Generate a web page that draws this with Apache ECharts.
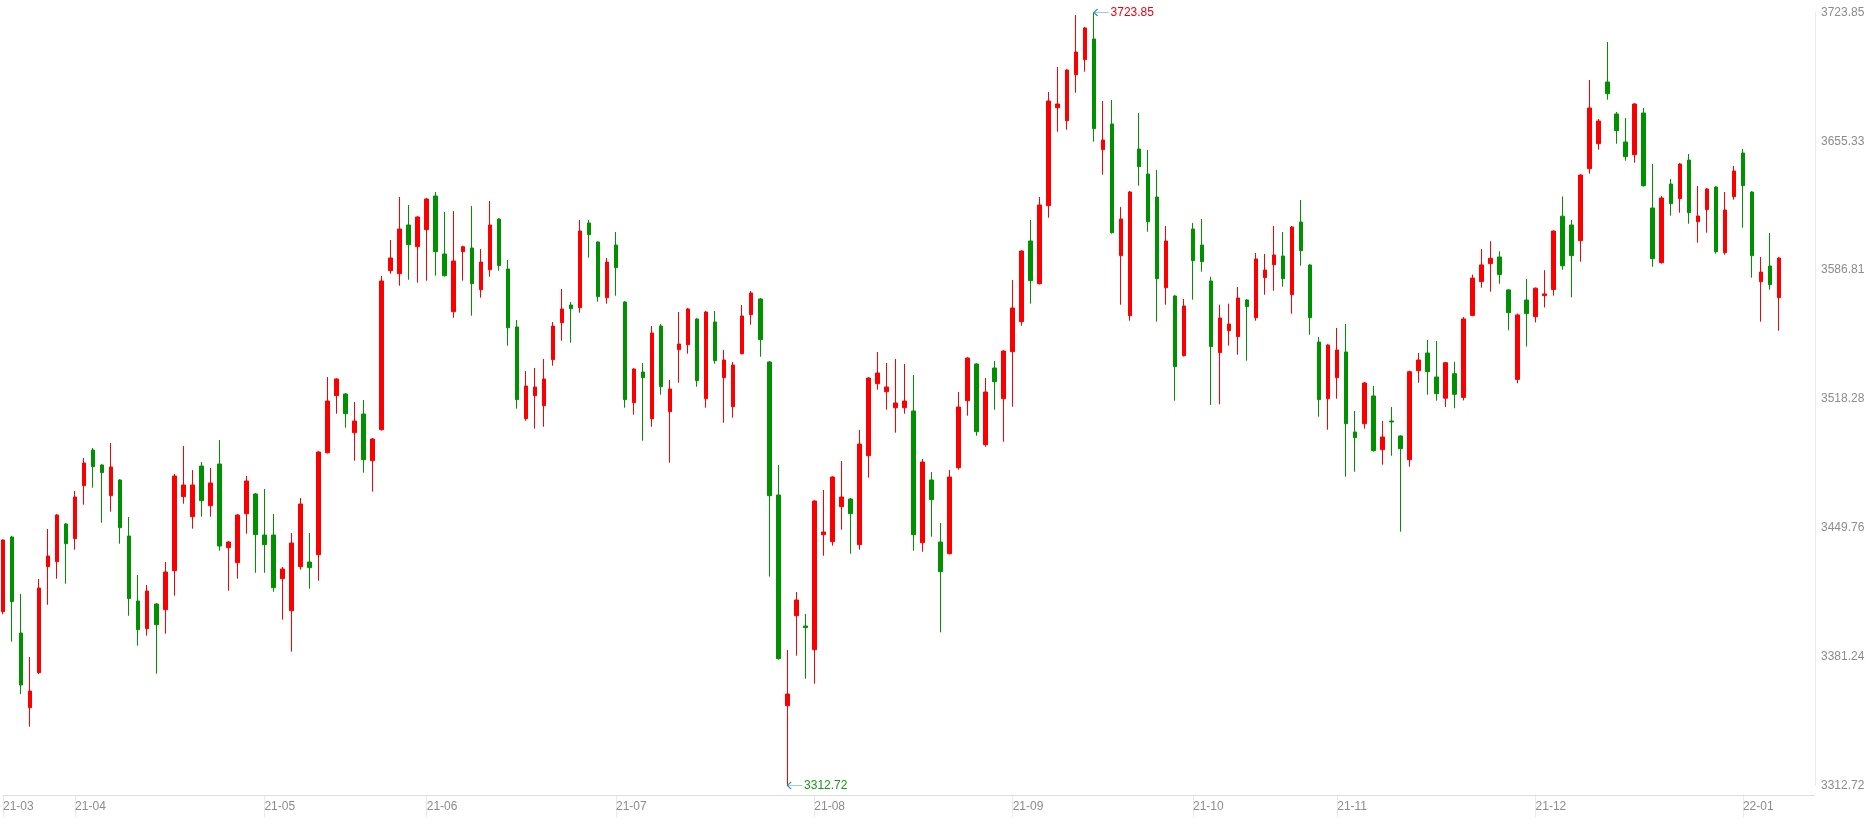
<!DOCTYPE html>
<html>
<head>
<meta charset="utf-8">
<title>上证指数 日K</title>
<script type="text/javascript" src="https://cdn.jsdelivr.net/npm/echarts@6/dist/echarts.min.js"></script>
<style>
html, body { margin: 0; padding: 0; background: #fff; }
#kline { width: 1871px; height: 819px; }
</style>
</head>
<body>
<div id="kline"></div>
<script type="text/javascript">
    // 交易日 (2021-03-22 ~ 2022-01-10)
    var months = ['2021-03', '2021-04', '2021-05', '2021-06', '2021-07', '2021-08',
                  '2021-09', '2021-10', '2021-11', '2021-12', '2022-01'];
    var tradeDays = [
        [22, 23, 24, 25, 26, 29, 30, 31],
        [1, 2, 6, 7, 8, 9, 12, 13, 14, 15, 16, 19, 20, 21, 22, 23, 26, 27, 28, 29, 30],
        [6, 7, 10, 11, 12, 13, 14, 17, 18, 19, 20, 21, 24, 25, 26, 27, 28, 31],
        [1, 2, 3, 4, 7, 8, 9, 10, 11, 15, 16, 17, 18, 21, 22, 23, 24, 25, 28, 29, 30],
        [1, 2, 5, 6, 7, 8, 9, 12, 13, 14, 15, 16, 19, 20, 21, 22, 23, 26, 27, 28, 29, 30],
        [2, 3, 4, 5, 6, 9, 10, 11, 12, 13, 16, 17, 18, 19, 20, 23, 24, 25, 26, 27, 30, 31],
        [1, 2, 3, 6, 7, 8, 9, 10, 13, 14, 15, 16, 17, 22, 23, 24, 27, 28, 29, 30],
        [8, 11, 12, 13, 14, 15, 18, 19, 20, 21, 22, 25, 26, 27, 28, 29],
        [1, 2, 3, 4, 5, 8, 9, 10, 11, 12, 15, 16, 17, 18, 19, 22, 23, 24, 25, 26, 29, 30],
        [1, 2, 3, 6, 7, 8, 9, 10, 13, 14, 15, 16, 17, 20, 21, 22, 23, 24, 27, 28, 29, 30, 31],
        [4, 5, 6, 7, 10]
    ];

    var opens = [
        3405.16, 3444.89, 3393.83, 3354.10, 3372.72, 3429.10, 3431.75, 3451.81, 3443.99, 3472.18,
        3491.16, 3483.19, 3466.86, 3475.21, 3445.42, 3410.85, 3396.12, 3409.26, 3406.23, 3426.97,
        3466.33, 3455.69, 3482.65, 3461.54, 3483.72, 3439.20, 3431.22, 3457.28, 3467.76, 3445.95,
        3445.95, 3422.71, 3405.69, 3429.10, 3431.59, 3435.48, 3489.73, 3520.04, 3520.95, 3500.37,
        3510.31, 3485.47, 3501.96, 3586.53, 3584.93, 3610.83, 3599.29, 3608.33, 3626.26, 3595.41,
        3564.72, 3596.63, 3598.60, 3576.42, 3587.06, 3614.02, 3587.43, 3556.58, 3507.81, 3520.04,
        3514.72, 3539.19, 3558.87, 3568.28, 3566.85, 3611.90, 3601.79, 3572.17, 3600.19, 3569.88,
        3516.32, 3532.65, 3507.81, 3557.11, 3511.53, 3544.51, 3547.17, 3560.84, 3518.45, 3559.24,
        3529.62, 3514.19, 3542.38, 3563.12, 3571.47, 3537.97, 3467.23, 3355.17, 3403.03, 3397.56,
        3384.95, 3446.11, 3442.39, 3461.01, 3465.10, 3440.80, 3488.13, 3526.43, 3522.17, 3513.66,
        3513.66, 3511.91, 3441.86, 3475.21, 3442.23, 3436.01, 3481.75, 3517.38, 3536.90, 3493.98,
        3534.78, 3518.45, 3543.45, 3559.40, 3602.32, 3579.61, 3621.10, 3673.22, 3666.30, 3690.77,
        3698.75, 3709.76, 3650.88, 3664.55, 3594.50, 3562.59, 3651.25, 3637.96, 3625.72, 3577.48,
        3573.07, 3541.32, 3608.70, 3600.19, 3581.05, 3542.91, 3554.61, 3551.42, 3570.94, 3561.53,
        3582.80, 3589.72, 3594.34, 3573.76, 3612.43, 3589.56, 3548.60, 3518.45, 3529.62, 3543.29,
        3500.74, 3505.15, 3519.88, 3491.32, 3506.59, 3498.61, 3486.00, 3533.34, 3542.75, 3529.99,
        3518.71, 3531.74, 3519.14, 3562.75, 3580.73, 3590.30, 3593.81, 3576.31, 3528.71, 3570.94,
        3562.06, 3573.28, 3576.53, 3615.51, 3610.83, 3602.48, 3640.78, 3654.07, 3686.89, 3669.87,
        3654.98, 3648.22, 3670.40, 3619.87, 3590.78, 3632.64, 3624.82, 3645.40, 3612.59, 3618.97,
        3631.04, 3596.10, 3625.88, 3649.13, 3628.38, 3580.67, 3589.03, 3572.17
    ];
    var closes = [
        3443.30, 3410.48, 3366.18, 3362.98, 3417.77, 3434.79, 3456.59, 3441.33, 3466.17, 3484.25,
        3482.28, 3479.09, 3482.12, 3449.84, 3412.08, 3395.59, 3416.17, 3398.25, 3426.28, 3477.33,
        3472.55, 3472.55, 3464.20, 3473.61, 3440.10, 3442.23, 3456.59, 3474.68, 3446.11, 3440.80,
        3417.92, 3427.87, 3441.70, 3462.44, 3428.56, 3490.10, 3517.22, 3528.93, 3510.47, 3506.59,
        3486.00, 3497.01, 3581.05, 3593.28, 3608.70, 3600.35, 3615.09, 3624.66, 3596.63, 3583.87,
        3591.68, 3599.29, 3579.61, 3591.15, 3610.83, 3589.18, 3556.21, 3517.92, 3525.20, 3524.67,
        3528.93, 3557.11, 3566.16, 3566.31, 3607.64, 3605.67, 3572.70, 3591.15, 3588.12, 3517.92,
        3534.24, 3529.62, 3553.39, 3524.83, 3523.61, 3547.54, 3566.16, 3528.02, 3564.56, 3538.66,
        3539.03, 3536.37, 3562.43, 3574.67, 3549.83, 3466.86, 3380.16, 3361.39, 3411.38, 3396.65,
        3464.04, 3447.55, 3476.80, 3466.17, 3457.28, 3494.35, 3529.46, 3532.12, 3524.67, 3516.16,
        3517.22, 3446.11, 3484.78, 3464.73, 3426.44, 3476.80, 3514.03, 3540.09, 3500.90, 3522.01,
        3527.49, 3543.82, 3566.69, 3597.00, 3581.21, 3621.47, 3676.78, 3675.19, 3693.27, 3702.84,
        3715.61, 3662.05, 3656.04, 3606.74, 3614.02, 3628.38, 3641.84, 3612.59, 3582.27, 3602.32,
        3535.47, 3567.75, 3591.84, 3591.31, 3546.10, 3561.37, 3558.18, 3572.01, 3567.38, 3592.75,
        3586.90, 3594.88, 3582.27, 3609.77, 3597.16, 3561.53, 3517.92, 3547.01, 3544.35, 3505.15,
        3497.70, 3526.80, 3490.79, 3498.08, 3506.06, 3491.85, 3532.81, 3539.03, 3532.81, 3521.11,
        3537.59, 3520.79, 3560.89, 3582.59, 3589.61, 3593.12, 3584.45, 3564.19, 3563.02, 3563.71,
        3577.22, 3574.19, 3607.59, 3589.13, 3594.50, 3637.42, 3673.06, 3666.14, 3680.66, 3660.99,
        3647.16, 3675.19, 3631.73, 3592.91, 3625.19, 3622.16, 3643.27, 3617.37, 3615.62, 3629.98,
        3596.63, 3618.81, 3639.55, 3631.73, 3594.50, 3585.83, 3579.08, 3593.28
    ];
    var lows = [
        3403.78, 3389.21, 3361.39, 3344.00, 3372.00, 3408.88, 3422.71, 3420.05, 3438.14, 3462.07,
        3471.11, 3452.50, 3458.35, 3441.33, 3403.03, 3387.08, 3392.40, 3372.19, 3393.46, 3413.67,
        3462.60, 3449.31, 3455.69, 3455.69, 3437.61, 3416.33, 3422.71, 3446.65, 3425.90, 3425.90,
        3415.80, 3400.91, 3383.89, 3427.50, 3417.40, 3421.65, 3489.30, 3510.47, 3503.02, 3485.47,
        3479.09, 3468.98, 3501.50, 3584.93, 3578.55, 3581.74, 3580.14, 3581.21, 3583.87, 3583.40,
        3561.53, 3581.21, 3562.59, 3572.17, 3583.33, 3586.53, 3546.64, 3513.13, 3506.75, 3502.49,
        3503.55, 3536.00, 3549.29, 3548.23, 3564.19, 3593.44, 3570.04, 3568.97, 3573.23, 3513.66,
        3509.94, 3496.11, 3503.55, 3520.57, 3484.41, 3526.96, 3542.38, 3524.83, 3513.66, 3537.06,
        3505.68, 3508.34, 3542.00, 3557.81, 3540.79, 3423.78, 3379.63, 3312.72, 3381.76, 3369.53,
        3366.87, 3434.94, 3440.26, 3448.77, 3436.01, 3438.14, 3476.43, 3523.23, 3512.60, 3500.37,
        3510.47, 3437.61, 3437.07, 3445.05, 3394.20, 3435.60, 3480.69, 3509.41, 3498.77, 3492.91,
        3512.60, 3495.58, 3514.19, 3557.27, 3568.97, 3579.20, 3614.71, 3660.45, 3661.52, 3681.20,
        3692.37, 3655.14, 3637.58, 3606.20, 3568.44, 3559.93, 3631.73, 3607.27, 3559.40, 3568.44,
        3517.38, 3540.90, 3571.10, 3585.99, 3515.10, 3515.47, 3546.64, 3541.85, 3538.66, 3559.93,
        3573.76, 3575.89, 3578.02, 3563.66, 3589.18, 3552.49, 3508.87, 3501.96, 3518.45, 3476.96,
        3479.62, 3502.49, 3490.30, 3483.35, 3488.13, 3447.71, 3482.28, 3526.96, 3520.57, 3517.38,
        3514.03, 3513.34, 3517.54, 3562.30, 3577.48, 3575.36, 3579.56, 3554.83, 3526.64, 3546.21,
        3559.03, 3566.95, 3573.28, 3587.06, 3572.38, 3591.31, 3638.12, 3650.88, 3677.47, 3654.07,
        3645.03, 3643.97, 3631.20, 3588.65, 3590.30, 3615.78, 3617.37, 3611.52, 3601.42, 3606.74,
        3595.57, 3595.04, 3624.29, 3609.40, 3582.80, 3559.40, 3576.42, 3554.61
    ];
    var highs = [
        3443.60, 3445.50, 3414.58, 3381.07, 3422.55, 3449.15, 3457.00, 3452.30, 3469.36, 3486.91,
        3492.23, 3483.60, 3494.89, 3475.60, 3455.53, 3424.68, 3419.36, 3409.70, 3431.59, 3478.40,
        3493.29, 3480.53, 3484.78, 3481.59, 3496.48, 3442.76, 3457.00, 3477.33, 3468.29, 3470.42,
        3457.12, 3428.94, 3447.02, 3465.63, 3447.02, 3490.50, 3529.99, 3529.30, 3521.40, 3516.69,
        3517.76, 3497.55, 3583.71, 3602.85, 3625.72, 3621.47, 3615.50, 3625.19, 3628.38, 3617.75,
        3618.28, 3599.82, 3620.94, 3598.07, 3623.60, 3614.40, 3592.22, 3560.30, 3533.18, 3534.78,
        3539.56, 3559.24, 3576.79, 3569.88, 3613.49, 3613.49, 3602.20, 3593.28, 3607.11, 3570.30,
        3534.60, 3537.43, 3557.11, 3558.18, 3528.39, 3564.56, 3566.69, 3561.20, 3565.09, 3565.09,
        3544.35, 3537.97, 3568.28, 3575.73, 3571.90, 3538.40, 3483.19, 3384.79, 3415.64, 3403.94,
        3464.40, 3469.89, 3477.20, 3485.31, 3465.63, 3501.80, 3529.90, 3543.29, 3537.43, 3539.56,
        3536.90, 3531.05, 3486.38, 3479.46, 3452.34, 3480.53, 3522.01, 3540.50, 3537.30, 3529.46,
        3538.50, 3544.20, 3581.58, 3597.40, 3613.49, 3625.72, 3681.57, 3694.87, 3693.70, 3722.52,
        3716.14, 3723.85, 3676.78, 3677.31, 3620.40, 3628.91, 3670.40, 3650.72, 3640.08, 3610.30,
        3573.50, 3571.47, 3611.90, 3614.02, 3583.33, 3568.44, 3568.97, 3577.86, 3571.40, 3595.94,
        3595.41, 3610.30, 3607.11, 3610.30, 3624.13, 3590.00, 3551.26, 3547.40, 3556.05, 3558.18,
        3511.91, 3527.33, 3525.20, 3506.59, 3514.03, 3499.00, 3533.34, 3542.75, 3549.67, 3549.14,
        3538.00, 3538.07, 3561.85, 3584.45, 3598.01, 3602.22, 3596.84, 3576.70, 3563.71, 3582.16,
        3577.60, 3586.79, 3608.01, 3625.99, 3613.49, 3637.80, 3687.95, 3667.21, 3708.16, 3670.93,
        3667.74, 3675.60, 3673.06, 3643.27, 3626.26, 3635.30, 3643.70, 3648.59, 3631.57, 3630.51,
        3631.40, 3628.38, 3642.21, 3651.25, 3628.80, 3593.81, 3606.58, 3593.70
    ];

    // 右侧价格刻度
    var yTicks = [3312.72, 3381.24, 3449.76, 3518.28, 3586.81, 3655.33, 3723.85];

    var upColor = '#fa0000';
    var downColor = '#009100';

    var dates = [];
    months.forEach(function (m, i) {
        tradeDays[i].forEach(function (d) {
            dates.push(m + '-' + (d < 10 ? '0' + d : d));
        });
    });
    // 右边留几格空位
    var categories = dates.concat(['pad1', 'pad2', 'pad3', 'pad4']);

    var monthStart = categories.map(function (d, i) {
        if (i >= dates.length) return false;
        return i === 0 || d.slice(0, 7) !== dates[i - 1].slice(0, 7);
    });

    var kdata = opens.map(function (o, i) {
        return [o, closes[i], lows[i], highs[i]];
    });

    var lo = Math.min.apply(null, lows);
    var hi = Math.max.apply(null, highs);

    var option = {
        backgroundColor: '#fff',
        animation: false,
        grid: { left: 0, right: 56, top: 12.5, bottom: 33.5 },
        xAxis: {
            type: 'category',
            data: categories,
            boundaryGap: false,
            offset: 10,
            axisLine: { lineStyle: { color: '#d6d6d6', type: 'dotted' } },
            axisTick: {
                show: true,
                interval: function (i) { return monthStart[i]; },
                length: 22,
                lineStyle: { color: '#d6d6d6', type: 'dotted' }
            },
            axisLabel: {
                interval: function (i) { return monthStart[i]; },
                formatter: function (v) { return v.slice(2, 7); },
                align: 'left',
                margin: 5,
                color: '#8c8c8c',
                fontSize: 12,
                fontFamily: 'Liberation Sans, Arial, sans-serif'
            },
            splitLine: { show: false }
        },
        yAxis: {
            type: 'value',
            position: 'right',
            min: lo,
            max: hi,
            axisLine: { show: true, lineStyle: { color: '#e8e8e8', type: 'dotted' } },
            axisTick: { show: false },
            splitLine: { show: false },
            axisLabel: {
                customValues: yTicks,
                formatter: function (v) { return v.toFixed(2); },
                margin: 6,
                color: '#8c8c8c',
                fontSize: 12,
                fontFamily: 'Liberation Sans, Arial, sans-serif'
            }
        },
        series: [{
            type: 'candlestick',
            data: kdata,
            barWidth: 4,
            itemStyle: {
                color: upColor,
                color0: downColor,
                borderColor: upColor,
                borderColor0: downColor,
                borderWidth: 1
            },
            markPoint: {
                symbol: 'path://M4,0L0,4L4,8M0,4L16,4',
                symbolSize: [15, 7],
                symbolOffset: ['50%', 0],
                itemStyle: { color: 'transparent', borderColor: '#3a93c2', borderWidth: 1 },
                label: {
                    show: true,
                    position: 'right',
                    distance: 1,
                    fontSize: 12,
                    fontFamily: 'Liberation Sans, Arial, sans-serif',
                    formatter: function (p) { return p.value.toFixed(2); }
                },
                data: [
                    { type: 'max', valueDim: 'highest', label: { color: '#e8001c' } },
                    { type: 'min', valueDim: 'lowest', label: { color: '#109a10' } }
                ]
            }
        }]
    };

    var chart = echarts.init(document.getElementById('kline'));
    chart.setOption(option);
</script>
</body>
</html>
